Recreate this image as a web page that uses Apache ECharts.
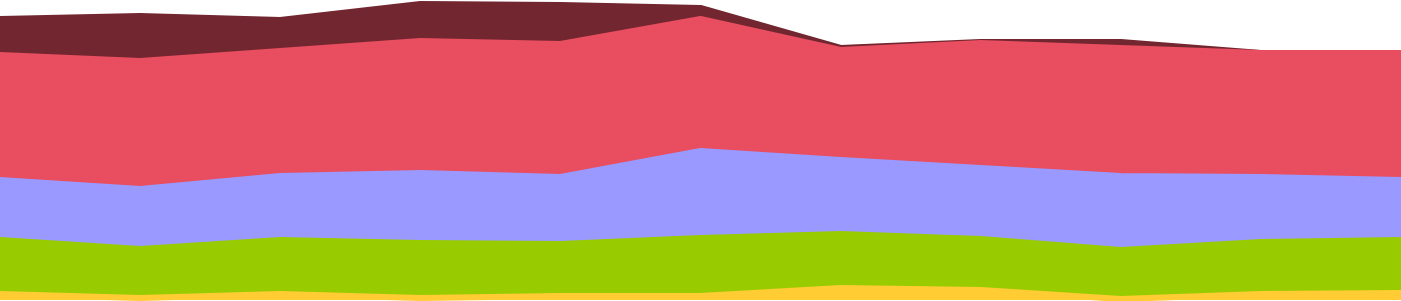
<!DOCTYPE html>
<html><head><meta charset="utf-8">
<script src="https://cdn.jsdelivr.net/npm/echarts@6/dist/echarts.min.js"></script>
<style>html,body{margin:0;padding:0;background:#fff}#c{width:1401px;height:301px}</style>
</head><body><div id="c"></div>
<script>
const categories = ['1','2','3','4','5','6','7','8','9','10','11'];
const yellow   = [6, 2, 6, 2, 4, 4, 12, 10, 1, 6, 7];
const green    = [54, 49, 54, 55, 52, 58, 54, 51, 49, 52, 53];
const lavender = [60, 60, 64, 70, 67, 87, 74, 71, 74, 65, 60];
const red      = [125, 128, 125, 132, 133, 132, 110, 125, 128, 124, 127];
const maroon   = [36, 45, 31, 37, 39, 11, 2, 1, 6, 0, 0];
const seriesDefs = [
  {name:'A', data:yellow, color:'#FFCC33'},
  {name:'B', data:green, color:'#99CC00'},
  {name:'C', data:lavender, color:'#9999FF'},
  {name:'D', data:red, color:'#E84E5F'},
  {name:'E', data:maroon, color:'#712630'}
];
const chart = echarts.init(document.getElementById('c'));
chart.setOption({
  animation:false,
  grid:{left:0,right:0,top:0,bottom:1},
  xAxis:{type:'category',data:categories,boundaryGap:false,show:false},
  yAxis:{type:'value',min:0,max:300,show:false},
  series: seriesDefs.map((s,i)=>({
    name:s.name,type:'line',stack:'all',data:s.data,symbol:'none',
    z: 20 - i,
    lineStyle:{color:s.color,width:6,join:'round',cap:'round'},
    areaStyle:{color:s.color,opacity:1},
    itemStyle:{color:s.color}
  }))
});
</script></body></html>
